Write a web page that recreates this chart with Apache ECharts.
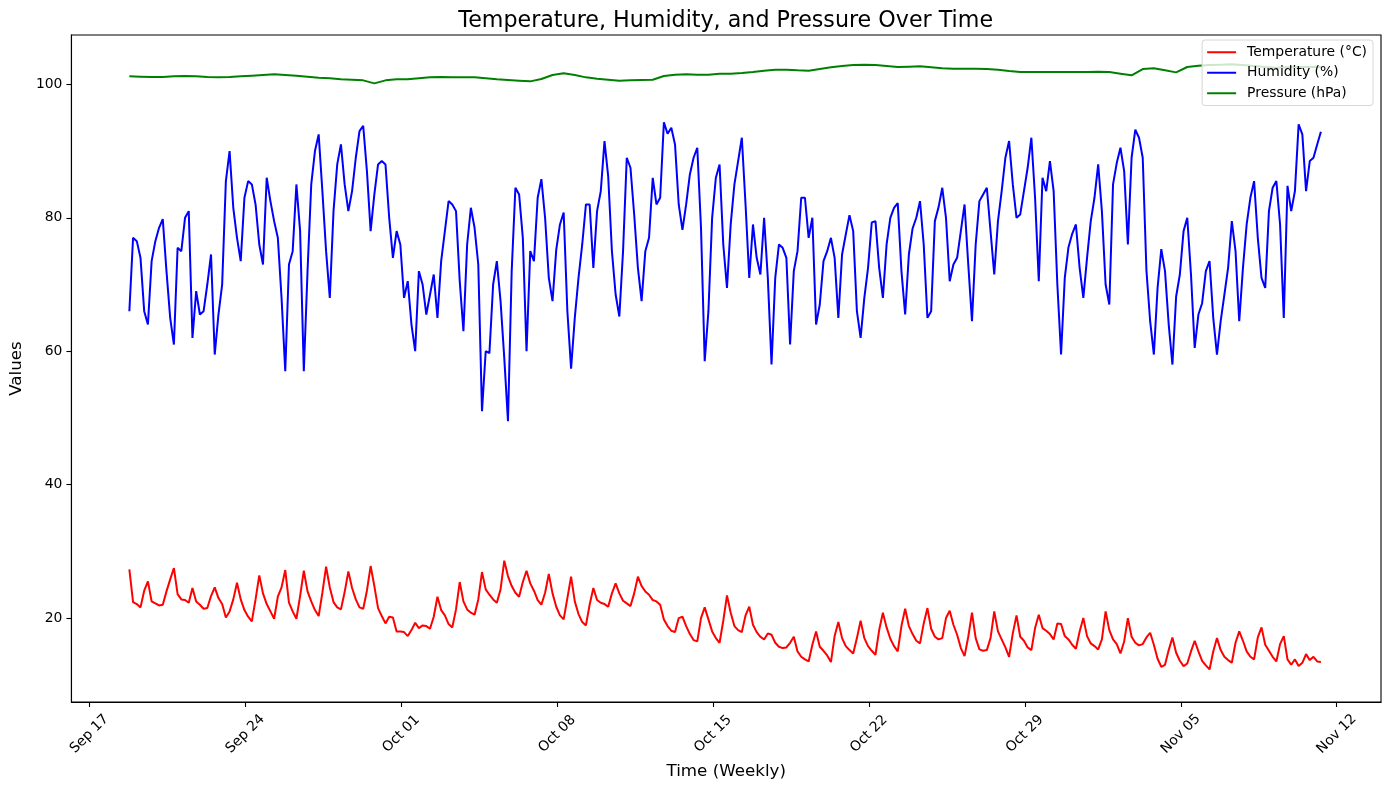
<!DOCTYPE html>
<html>
<head>
<meta charset="utf-8">
<title>Temperature, Humidity, and Pressure Over Time</title>
<script src="https://cdn.jsdelivr.net/npm/echarts@6/dist/echarts.min.js"></script>
<style>
  html, body { margin: 0; padding: 0; background: #fff; }
  #chart { width: 1389px; height: 790px; }
</style>
</head>
<body>
<div id="chart"></div>
<script>
// readings start Sep 18 19:00; temperature / humidity every 4 h, pressure every 12 h
const HOUR = 3600 * 1000;
const DAY = 24 * HOUR;
const startTime = new Date(2024, 8, 18, 19, 0).getTime();
const stepTH = 4 * HOUR;
const stepP = 12 * HOUR;

const seriesNames = ['Temperature (°C)', 'Humidity (%)', 'Pressure (hPa)'];
const seriesColors = ['#ff0000', '#0000ff', '#008000'];

const temperature = [
  27.3, 22.4, 22.1, 21.6, 24.1, 25.5, 22.5, 22.2, 21.9, 22.0,
  24.0, 25.8, 27.5, 23.6, 22.8, 22.7, 22.3, 24.5, 22.5, 22.0,
  21.4, 21.5, 23.3, 24.6, 23.0, 22.1, 20.1, 21.0, 22.8, 25.3,
  22.8, 21.2, 20.2, 19.5, 22.8, 26.4, 23.7, 22.1, 21.0, 19.9,
  23.2, 24.6, 27.2, 22.3, 21.0, 19.9, 23.3, 27.1, 24.0, 22.5,
  21.2, 20.3, 23.8, 27.7, 24.6, 22.4, 21.6, 21.3, 23.9, 27.0,
  24.5, 22.8, 21.6, 21.4, 24.1, 27.8, 24.8, 21.5, 20.3, 19.2,
  20.2, 20.1, 18.0, 18.0, 17.9, 17.3, 18.2, 19.3, 18.5, 18.9,
  18.8, 18.4, 20.2, 23.2, 21.2, 20.4, 19.1, 18.6, 21.3, 25.4,
  22.5, 21.3, 20.8, 20.5, 22.8, 26.9, 24.3, 23.5, 22.8, 22.3,
  24.3, 28.6, 26.3, 24.8, 23.8, 23.2, 25.4, 27.1, 25.2, 24.1,
  22.7, 22.0, 23.8, 26.6, 23.7, 21.7, 20.4, 19.8, 23.0, 26.2,
  22.5, 20.6, 19.4, 18.9, 22.0, 24.5, 22.7, 22.3, 22.1, 21.7,
  23.7, 25.2, 23.7, 22.6, 22.2, 21.8, 23.7, 26.2, 24.8, 24.0,
  23.5, 22.7, 22.5, 22.0, 19.8, 18.8, 18.1, 17.9, 20.0, 20.2,
  18.8, 17.6, 16.7, 16.5, 20.0, 21.6, 19.8, 18.0, 17.0, 16.3,
  19.6, 23.4, 20.8, 18.8, 18.2, 17.9, 20.4, 21.7, 19.0, 17.9,
  17.2, 16.8, 17.7, 17.5, 16.3, 15.7, 15.5, 15.6, 16.3, 17.2,
  15.0, 14.2, 13.8, 13.5, 16.0, 18.0, 15.7, 15.1, 14.4, 13.4,
  17.3, 19.4, 17.0, 15.8, 15.2, 14.7, 17.0, 19.6, 17.0, 15.8,
  15.1, 14.5, 18.2, 20.8, 18.6, 16.9, 15.8, 15.0, 18.8, 21.4,
  18.8, 17.6, 16.6, 16.2, 19.2, 21.5, 18.4, 17.2, 16.8, 17.0,
  20.0, 21.1, 19.0, 17.5, 15.5, 14.3, 17.2, 20.8, 17.0, 15.3,
  15.1, 15.2, 17.0, 21.0, 18.0, 16.8, 15.6, 14.2, 17.7, 20.4,
  17.2, 16.6, 15.6, 15.2, 18.5, 20.5, 18.5, 18.1, 17.6, 16.8,
  19.2, 19.1, 17.3, 16.8, 16.0, 15.4, 18.0, 20.0, 17.3, 16.2,
  15.8, 15.3, 16.8, 21.0, 18.2, 16.8, 16.1, 14.7, 16.5, 20.0,
  17.2, 16.3, 15.9, 16.1, 17.1, 17.8, 16.0, 13.9, 12.7, 13.0,
  15.2, 17.1, 14.8, 13.6, 12.8, 13.2, 15.0, 16.6, 15.0, 13.6,
  12.9, 12.3, 15.0, 17.0, 15.2, 14.2, 13.7, 13.3, 16.3, 18.0,
  16.6, 15.0, 14.2, 13.8, 17.1, 18.6, 16.0, 15.1, 14.2, 13.5,
  16.1, 17.3, 13.8, 13.0, 13.8, 12.8, 13.3, 14.6, 13.7, 14.2,
  13.5, 13.4
];

const humidity = [
  66, 77, 76.5, 74, 66, 64, 73.5, 76.5, 78.5, 79.8,
  72, 65, 61, 75.5, 75, 80, 81, 62, 69, 65.5,
  66, 70, 74.5, 59.5, 65.5, 70, 85.5, 90, 81.5, 77,
  73.5, 83, 85.5, 85, 82, 76, 73, 86, 82.5, 79.5,
  77, 68, 57, 73, 75, 85, 78, 57, 72, 85,
  90, 92.5, 84, 75, 68, 81, 88, 91, 85, 81,
  84, 89, 93, 93.8, 87, 78, 83.5, 88, 88.5, 88,
  80, 74, 78, 76, 68, 70.5, 64, 60, 72, 70,
  65.5, 68.5, 71.5, 65, 73.5, 78, 82.5, 82, 81, 70.5,
  63, 76, 81.5, 78.5, 73, 51, 60, 59.7, 70, 73.5,
  67.5, 59, 49.5, 72, 84.5, 83.5, 77, 60, 75, 73.5,
  83, 85.8, 80, 71, 67.5, 75.2, 79, 80.8, 66, 57.4,
  65, 71, 76, 82, 82, 72.5, 81, 84, 91.5, 86.2,
  75, 68.5, 65.2, 75, 89, 87.5, 80.5, 72.5, 67.5, 75,
  77, 86, 82, 83, 94.3, 92.6, 93.5, 91, 82, 78.2,
  82, 86.5, 89, 90.5, 78.5, 58.5, 66, 80, 86, 88,
  76, 69.5, 79, 85, 88.5, 92, 82, 71, 79, 74,
  71.5, 80, 71, 58, 71, 76, 75.5, 74, 61, 72,
  75, 83, 83, 77, 80, 64, 67, 73.5, 75, 77,
  74, 65, 74.5, 77.5, 80.4, 78, 66, 62, 68, 72.5,
  79.3, 79.5, 72.5, 68, 76, 80, 81.5, 82.2, 72, 65.5,
  74.5, 78.4, 80, 82.5, 76, 65, 66, 79.5, 81.6, 84.5,
  80, 70.5, 73, 74, 78, 82, 73, 64.5, 76, 82.5,
  83.5, 84.5, 78, 71.5, 79.5, 84, 89, 91.5, 85, 80,
  80.5, 84, 87.5, 92, 83, 70.5, 86, 84, 88.5, 84,
  70, 59.5, 71, 75.6, 77.6, 79, 72.5, 68, 74, 79.5,
  83, 88, 81, 70, 67, 85, 88.2, 90.5, 87, 76,
  89, 93.2, 92, 89, 72.1, 64.5, 59.5, 69.5, 75.3, 72,
  64, 58, 68.2, 71.5, 78, 80, 71.5, 60.5, 65.5, 67.2,
  72, 73.5, 65, 59.5, 64.5, 68.5, 72.5, 79.5, 75, 64.5,
  72.5, 79, 83, 85.5, 77, 71, 69.5, 81, 84.5, 85.5,
  79, 65, 84.8, 81, 84, 94, 92.5, 84, 88.5, 89,
  91, 92.9
];

const pressure = [
  101.2, 101.15, 101.1, 101.1, 101.2, 101.25, 101.2, 101.1, 101.05, 101.1,
  101.2, 101.3, 101.4, 101.5, 101.4, 101.3, 101.15, 101.0, 100.9, 100.75,
  100.7, 100.6, 100.15, 100.6, 100.75, 100.75, 100.9, 101.05, 101.1, 101.05,
  101.05, 101.05, 100.9, 100.75, 100.65, 100.55, 100.45, 100.8, 101.4, 101.65,
  101.4, 101.05, 100.85, 100.7, 100.55, 100.6, 100.65, 100.7, 101.25, 101.45,
  101.5, 101.45, 101.45, 101.6, 101.6, 101.7, 101.85, 102.05, 102.2, 102.2,
  102.1, 102.05, 102.3, 102.55, 102.75, 102.9, 102.95, 102.9, 102.75, 102.6,
  102.65, 102.7, 102.55, 102.4, 102.35, 102.35, 102.35, 102.3, 102.2, 102.0,
  101.85, 101.85, 101.85, 101.85, 101.85, 101.85, 101.85, 101.9, 101.85, 101.6,
  101.35, 102.3, 102.4, 102.1, 101.8, 102.6, 102.8, 102.9, 102.95, 103.0,
  102.9, 102.75, 102.6, 102.5, 102.55, 102.6, 102.6, 102.6
];

// weekly tick labels, first one on Tue Sep 17
const xTickLabels = ['Sep 17', 'Sep 24', 'Oct 01', 'Oct 08', 'Oct 15', 'Oct 22', 'Oct 29', 'Nov 05', 'Nov 12'];
const yTicks = [20, 40, 60, 80, 100];

const firstTick = new Date(2024, 8, 17).getTime();
const xTickValues = xTickLabels.map((_, i) => firstTick + i * 7 * DAY);
const xMin = firstTick - 0.81 * DAY;
const xMax = firstTick + 57.99 * DAY;
const yMin = 7.42;
const yMax = 107.4;

const toPairs = (vals, step) => vals.map((v, i) => [startTime + i * step, v]);

const FONT = 'DejaVu Sans';
const chart = echarts.init(document.getElementById('chart'));

const option = {
  animation: false,
  backgroundColor: '#fff',
  title: {
    text: 'Temperature, Humidity, and Pressure Over Time',
    left: 725.7,
    textAlign: 'center',
    top: 10,
    padding: 0,
    textStyle: { fontFamily: FONT, fontSize: 22.2, fontWeight: 'normal', color: '#000' }
  },
  legend: {
    orient: 'vertical',
    right: 16,
    top: 40,
    data: seriesNames,
    icon: 'rect',
    itemWidth: 29,
    itemHeight: 2,
    itemGap: 6,
    padding: [5, 6, 5, 5],
    backgroundColor: 'rgba(255,255,255,0.8)',
    borderColor: '#d6d6d6',
    borderWidth: 1,
    borderRadius: 3,
    textStyle: { fontFamily: FONT, fontSize: 13.9, color: '#000', lineHeight: 14.5, padding: [0, 0, 0, 6] }
  },
  grid: {
    left: 70, right: 8, top: 35, bottom: 88,
    show: true, borderColor: '#000', borderWidth: 1.1, backgroundColor: 'transparent'
  },
  xAxis: {
    // timestamps on a plain value axis, ticks placed on the weekly dates
    type: 'value',
    min: xMin,
    max: xMax,
    name: 'Time (Weekly)',
    nameLocation: 'middle',
    nameGap: 59,
    nameTextStyle: { fontFamily: FONT, fontSize: 16.7, color: '#000' },
    axisLine: { show: true, lineStyle: { color: '#000', width: 1.1 } },
    axisTick: { show: true, length: 5, lineStyle: { color: '#000', width: 1.1 }, customValues: xTickValues },
    axisLabel: {
      customValues: xTickValues,
      rotate: 45,
      align: 'center',
      verticalAlign: 'middle',
      margin: 32,
      fontFamily: FONT,
      fontSize: 13.9,
      color: '#000',
      formatter: function (value) {
        const idx = xTickValues.indexOf(value);
        return idx >= 0 ? xTickLabels[idx] : '';
      }
    },
    splitLine: { show: false }
  },
  yAxis: {
    type: 'value',
    min: yMin,
    max: yMax,
    name: 'Values',
    nameLocation: 'middle',
    nameGap: 42,
    nameTextStyle: { fontFamily: FONT, fontSize: 16.7, color: '#000' },
    axisLine: { show: true, lineStyle: { color: '#000', width: 1.1 } },
    axisTick: { show: true, length: 5, lineStyle: { color: '#000', width: 1.1 }, customValues: yTicks },
    axisLabel: { customValues: yTicks, margin: 9, fontFamily: FONT, fontSize: 13.9, color: '#000' },
    splitLine: { show: false }
  },
  series: [
    { data: toPairs(temperature, stepTH) },
    { data: toPairs(humidity, stepTH) },
    { data: toPairs(pressure, stepP) }
  ].map((s, i) => ({
    name: seriesNames[i],
    type: 'line',
    data: s.data,
    showSymbol: false,
    symbol: 'none',
    lineStyle: { color: seriesColors[i], width: 2 },
    itemStyle: { color: seriesColors[i] }
  }))
};

chart.setOption(option);
</script>
</body>
</html>
